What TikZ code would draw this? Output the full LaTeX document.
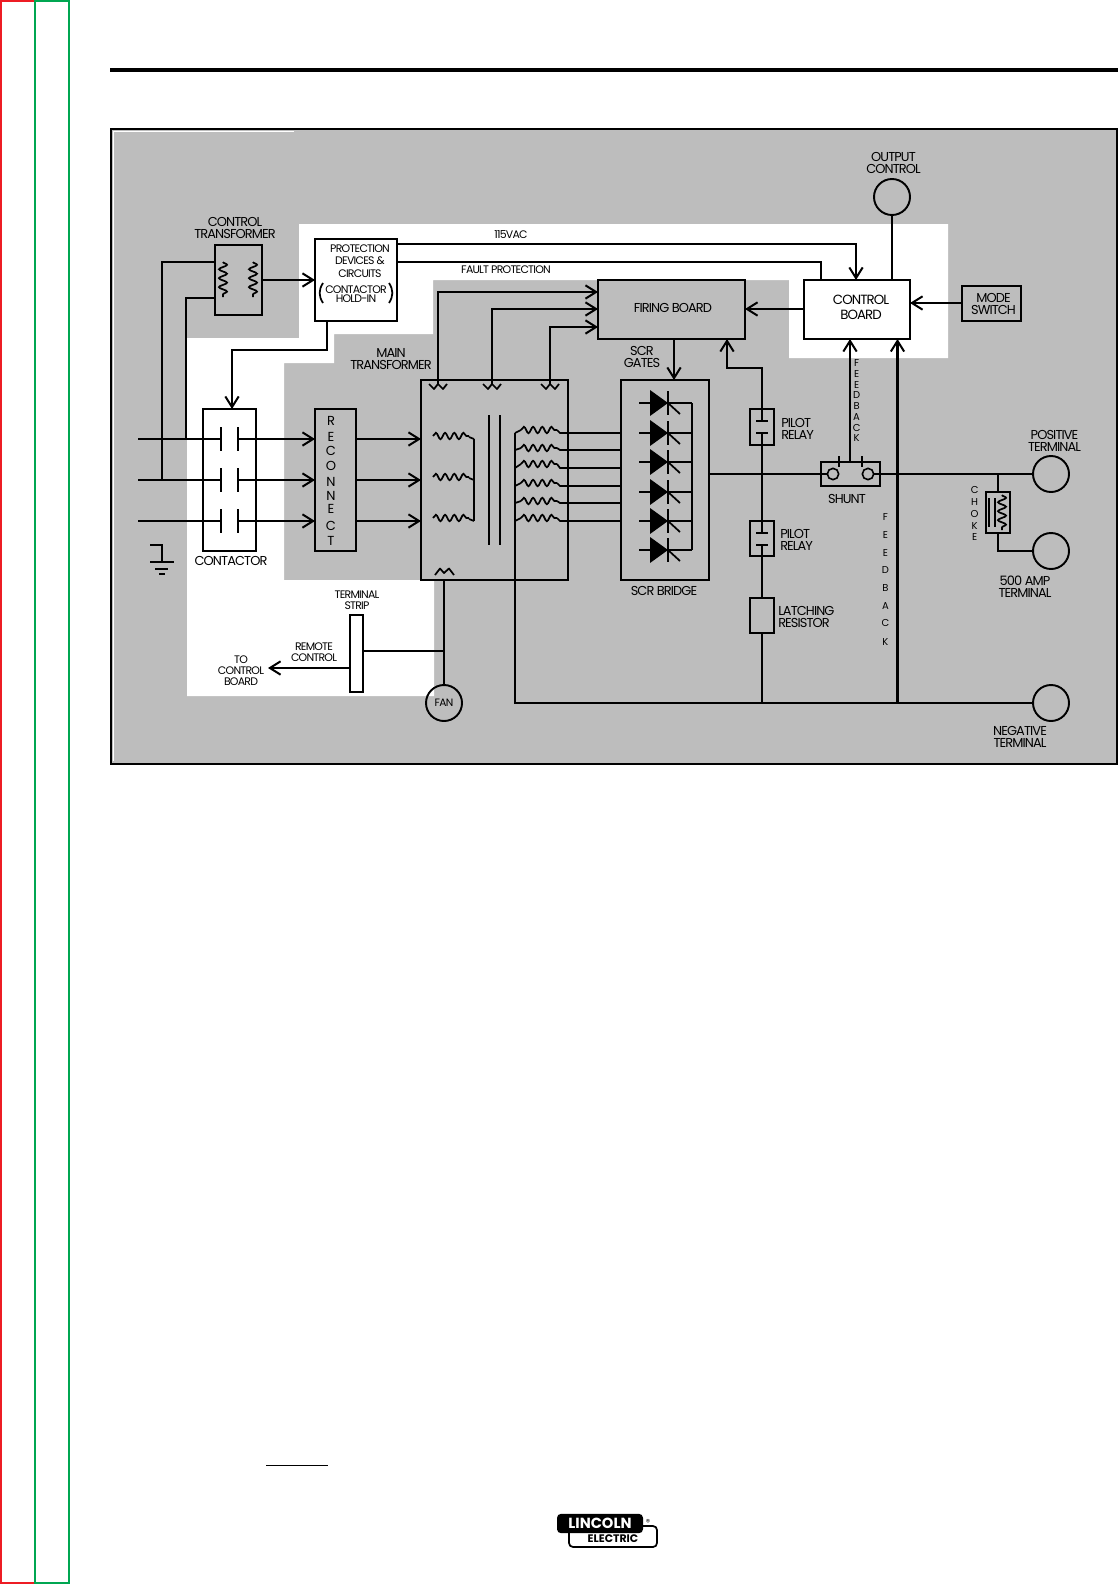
\documentclass[tikz,border=0pt]{standalone}
\usepackage{fontspec}
\setmainfont[LetterSpace=-7]{Poppins}
\newfontfamily\logofont{Poppins}
\usetikzlibrary{arrows.meta,decorations.pathmorphing}
\definecolor{fondoGris}{HTML}{BDBDBD}
\definecolor{marcoRojo}{HTML}{ED1C24}
\definecolor{marcoVerde}{HTML}{00A651}
\tikzset{
  wire/.style={line width=1.3pt},
  wireB/.style={line width=1.65pt},
  blockbox/.style 2 args={draw,line width=1.45pt,outer sep=0pt,inner sep=0pt,
    minimum width=#1*0.75pt,minimum height=#2*0.75pt},
  terminal/.style={circle,draw,line width=1.45pt,outer sep=0pt,inner sep=0pt,
    minimum size=27pt},
  lbl/.style={align=center,inner sep=0pt,font=\fontsize{9.7}{9}\selectfont},
  lblS/.style={align=center,inner sep=0pt,font=\fontsize{8.2}{8.2}\selectfont},
  lblL/.style={align=center,inner sep=0pt,font=\fontsize{10}{11.3}\selectfont},
  letterS/.style={inner sep=0pt,font=\fontsize{7.5}{8}\selectfont},
  coilH/.style={wire,decorate,decoration={snake,segment length=6.9pt,amplitude=2.4pt}},
  coilV/.style={wire,decorate,decoration={snake,segment length=6.7pt,amplitude=3pt}},
  coilW/.style={wire,line join=round},
}

\begin{document}
\begin{tikzpicture}[x=0.75pt,y=-0.75pt,
                    >={Straight Barb[length=8pt,width=10pt,line width=1.5pt]}]
  \useasboundingbox (0,0) rectangle (1118,1584);
  % page margins
  \draw[marcoRojo,line width=1.5pt] (35,1) -- (1,1) -- (1,1582.5) -- (35,1582.5);
  \draw[marcoVerde,line width=1.5pt] (35,1) rectangle (69,1582.5);
  \fill (110,68) rectangle (1118,72);
  % background
  \fill[fondoGris] (110,128) rectangle (1117,764);
  \fill[white] (299,224) -- (948,224) -- (948,358) -- (789,358) -- (789,280)
    -- (433,280) -- (433,334) -- (334,334) -- (334,363) -- (284,363) -- (284,580)
    -- (434,580) -- (434,696) -- (187,696) -- (187,338) -- (299,338) -- cycle;
  \draw[white,line width=0.6pt] (294,131) -- (113,131) -- (113,761);
  \draw[line width=2pt] (111,129) rectangle (1117,764);

  % blocks
  \node[blockbox={47}{70},fill=fondoGris] (ctrlXfmr) at (238.5,280) {};
  \node[blockbox={82}{82},fill=white] (protect) at (356,280) {};
  \node[blockbox={53}{142},fill=white] (contactor) at (229.5,480) {};
  \node[blockbox={41}{142},fill=fondoGris] (reconnect) at (335.5,480) {};
  \node[blockbox={147}{200},fill=fondoGris] (mainXfmr) at (494.5,480) {};
  \node[blockbox={147}{59}] (firing) at (671.5,309.5) {};
  \node[blockbox={106}{59},fill=white] (control) at (857,309.5) {};
  \node[blockbox={59}{35}] (mode) at (991.5,303.5) {};
  \node[blockbox={88}{200},fill=fondoGris] (scrBridge) at (665,480) {};
  \node[blockbox={23.5}{36}] (relayA) at (762.2,427) {};
  \node[blockbox={23.5}{35}] (relayB) at (762.2,538.5) {};
  \node[blockbox={23.5}{35}] (latch) at (762.2,615.5) {};
  \node[blockbox={59}{24}] (shunt) at (850.5,474) {};
  \node[blockbox={24}{41}] (choke) at (998,512.5) {};
  \node[blockbox={13}{77},fill=white] (strip) at (356.5,653.5) {};
  \node[terminal] (outCtrl) at (892,197) {};
  \node[terminal] (posTerm) at (1051,474) {};
  \node[terminal] (ampTerm) at (1051,551) {};
  \node[terminal] (negTerm) at (1051,703) {};
  \node[terminal,font=\fontsize{8}{8}\selectfont] (fan) at (444,703) {FAN};

  % texts
  \node[lbl] (lblCtrlXfmr) at (235,228) {CONTROL\\TRANSFORMER};
  \node[lblS,anchor=center] (lblProtect) at (360,261) {PROTECTION\\[1pt]DEVICES \&\\[1pt]CIRCUITS};
  \node[lblS] (lblHold) at (356,294.5) {CONTACTOR\\[-1.5pt]HOLD-IN};
  \node[lblS] (lbl115) at (511,235) {115VAC};
  \node[lblS] (lblFault) at (506,270) {FAULT PROTECTION};
  \node[lbl] (lblMain) at (391,359.5) {MAIN\\TRANSFORMER};
  \node[lbl] (lblContactor) at (231,561) {CONTACTOR};
  \node[lblS] (lblStrip) at (357,600.5) {TERMINAL\\STRIP};
  \node[lblS] (lblRemote) at (314,652.5) {REMOTE\\CONTROL};
  \node[lblS] (lblToBoard) at (241,671) {TO\\CONTROL\\BOARD};
  \node[lbl] (lblFiring) at (673,308) {FIRING BOARD};
  \node[lblL] (lblControl) at (861,307.5) {CONTROL\\BOARD};
  \node[lbl] (lblOutput) at (893.5,163) {OUTPUT\\CONTROL};
  \node[lbl] (lblMode) at (993.5,303.5) {MODE\\SWITCH};
  \node[lbl] (lblGates) at (642,357) {SCR\\GATES};
  \node[lbl] (lblBridge) at (664,591) {SCR BRIDGE};
  \node[lbl,align=left,anchor=west] (lblRelayA) at (781,428.5) {PILOT\\RELAY};
  \node[lbl,align=left,anchor=west] (lblRelayB) at (780,540) {PILOT\\RELAY};
  \node[lbl,align=left,anchor=west] (lblLatch) at (778,617) {LATCHING\\RESISTOR};
  \node[lbl] (lblShunt) at (847,499) {SHUNT};
  \node[lbl] (lblPos) at (1054.5,440.5) {POSITIVE\\TERMINAL};
  \node[lbl] (lbl500) at (1025,587) {500 AMP\\TERMINAL};
  \node[lbl] (lblNeg) at (1020,737) {NEGATIVE\\TERMINAL};
  \foreach \ch/\yy in {R/421,E/437,C/451,O/466,N/482,N/496,E/509,C/526,T/541}
    \node[inner sep=0pt,font=\fontsize{9.8}{10}\selectfont] (rec\yy) at (331,\yy) {\ch};
  \foreach \ch/\yy in {F/363,E/374,E/385,D/395,B/406,A/417,C/428,K/438}
    \node[letterS] (fbA\yy) at (856.6,\yy) {\ch};
  \foreach \ch/\yy in {F/517,E/535,E/553,D/570,B/588,A/606,C/623,K/642}
    \node[letterS] (fbB\yy) at (885.4,\yy) {\ch};
  \foreach \ch/\yy in {C/490,H/502,O/514,K/526,E/537}
    \node[letterS] (chk\yy) at (974.6,\yy) {\ch};
  \draw[wire] (323,283) .. controls (318.5,290) and (318.5,296) .. (323,303);
  \draw[wire] (389,283) .. controls (393.5,290) and (393.5,296) .. (389,303);

  % control transformer and mains
  \draw[coilV] (223,262) -- (223,297);
  \draw[coilV] (253,262) -- (253,297);
  \coordinate (lineA) at (138,439);
  \coordinate (lineB) at (138,480);
  \coordinate (lineC) at (138,521);
  \draw[wire] (ctrlXfmr.west |- 0,262) -- (162,262) -- (162,480);
  \draw[wire] (ctrlXfmr.west |- 0,298) -- (186,298) -- (186,439);
  \draw[wire,->] (ctrlXfmr.east |- 0,280) -- (protect.west |- 0,280);
  \foreach \yy/\nn in {439/lineA,480/lineB,521/lineC}{
    \draw[wire] (\nn) -- (221,\yy);
    \draw[wire] (221,\yy-12) -- (221,\yy+12);
    \draw[wire] (238,\yy-12) -- (238,\yy+12);
    \draw[wire,->] (238,\yy) -- (reconnect.west |- 0,\yy);
    \draw[wire,->] (reconnect.east |- 0,\yy) -- (mainXfmr.west |- 0,\yy);
  }
  \draw[wireB,->] (protect.south -| 327,0) -- (327,350) -- (232,350) -- (contactor.north -| 232,0);
  \draw[wireB,->] (protect.east |- 0,244) -- (856,244) -- (control.north -| 856,0);
  \draw[wire] (protect.east |- 0,262) -- (821,262) -- (control.north -| 821,0);
  % ground
  \draw[wire] (150,545) -- (162,545) -- (162,562);
  \draw[wire] (150,562) -- (174,562);
  \draw[wire] (155,569) -- (168,569);
  \draw[wire] (159,574) -- (165,574);

  % main transformer
  \foreach \yy in {439,480,521}{
    \draw[coilH] (433,\yy-3) -- (469,\yy-3);
    \draw[wire] (469,\yy-2) -- (474,\yy);
  }
  \draw[wire] (474,439) -- (474,521);
  \draw[wire] (489,415) -- (489,545);
  \draw[wire] (500,415) -- (500,545);
  \foreach \yy/\ww in {433/430,450/448,468/464,486/483,503/501,521/518}{
    \draw[coilH] (521,\ww) -- (557,\ww);
    \draw[wire] (515,\yy) -- (521,\ww);
    \draw[wire] (557,\ww) -- (560,\yy) -- (scrBridge.west |- 0,\yy);
  }
  \draw[wire] (515,433) -- (515,703) -- (negTerm);
  \foreach \xx in {438,492,550}
    \draw[coilW] (\xx-9,384) -- (\xx-4,389) -- (\xx,384) -- (\xx+5,389) -- (\xx+9,384);
  \draw[wireB,->] (438,384) -- (438,292) -- (firing.west |- 0,292);
  \draw[wire,->] (492,384) -- (492,309) -- (firing.west |- 0,309);
  \draw[wire,->] (550,384) -- (550,327) -- (firing.west |- 0,327);
  \draw[coilW] (435,575) -- (440,568.5) -- (444,573) -- (449,568.5) -- (454,575);
  \draw[wire] (mainXfmr.south -| 444,0) -- (fan);
  \draw[wire] (strip.east |- 0,651) -- (444,651);
  \draw[wireB,->] (strip.west |- 0,668) -- (268,668);

  % scr bridge
  \draw[wire,->] (firing.south -| 674,0) -- (scrBridge.north -| 674,0);
  \foreach \yy in {403,433,462,492,521,550}{
    \fill (650,\yy-13) -- (668,\yy) -- (650,\yy+13) -- cycle;
    \draw[wire] (639,\yy) -- (650,\yy);
    \draw[wire] (668,\yy-12) -- (668,\yy+12);
    \draw[wire] (668,\yy) -- (680,\yy+11);
    \draw[wire] (668,\yy) -- (692,\yy);
  }
  \draw[wire] (692,403) -- (692,550);

  % output side
  \draw[wire] (scrBridge.east |- 0,474) -- (shunt.west);
  \draw[wire] (shunt.east) -- (posTerm);
  \node[circle,draw,line width=1.2pt,inner sep=0pt,minimum size=8.5pt,outer sep=0pt] (shuntA) at (833,474) {};
  \node[circle,draw,line width=1.2pt,inner sep=0pt,minimum size=8.5pt,outer sep=0pt] (shuntB) at (868,474) {};
  \draw[wire] (shunt.west) -- (shuntA);
  \draw[wire] (shunt.east) -- (shuntB);
  \draw[wire] (839,456) -- (839,467);
  \draw[wireB] (862,456) -- (862,467);
  \draw[wire,->] (shunt.north -| 850,0) -- (control.south -| 850,0);
  \draw[wireB,->] (897.5,703) -- (control.south -| 897.5,0);
  \draw[wire,<-] (control.east |- 0,303) -- (mode.west |- 0,303);
  \draw[wireB,->] (control.west |- 0,309) -- (firing.east |- 0,309);
  \draw[wire] (outCtrl) -- (control.north -| 892,0);
  \draw[wire,->] (relayA.north -| 762,0) -- (762,368) -- (727,368) -- (firing.south -| 727,0);
  \draw[wire] (relayA.north -| 762,0) -- (762,421);
  \draw[wire] (756,421) -- (768,421);
  \draw[wire] (756,433) -- (768,433);
  \draw[wire] (762,433) -- (762,533);
  \draw[wire] (756,533) -- (768,533);
  \draw[wire] (756,545) -- (768,545);
  \draw[wire] (762,545) -- (latch.north -| 762,0);
  \draw[wire] (latch.south -| 762,0) -- (762,703);
  \draw[wire] (515,703) -- (762,703);
  \draw[wire] (998,474) -- (choke.north);
  \draw[wire] (choke.south) -- (998,551) -- (ampTerm);
  \draw[wire] (989,498) -- (989,527);
  \draw[wire] (995,498) -- (995,527);
  \draw[coilV] (1002,495) -- (1002,530);

  % footer
  \draw[line width=0.75pt] (266,1465) -- (328,1465);
  \draw[line width=1.3pt,rounded corners=3pt,fill=white] (569,1526) rectangle (657,1547)
    node[midway,yshift=-1.8pt,font=\logofont\bfseries\fontsize{8.2}{8}\selectfont] (logoB) {ELECTRIC};
  \node[fill=black,rounded corners=3pt,text=white,inner sep=0pt,minimum width=64.5pt,minimum height=14.5pt,
    font=\logofont\bfseries\fontsize{11}{11}\selectfont] (logoA) at (600,1523.5) {LINCOLN};
  \node[inner sep=0pt,font=\fontsize{6.5}{6}\selectfont] (logoR) at (648,1522) {®};
\end{tikzpicture}
\end{document}
